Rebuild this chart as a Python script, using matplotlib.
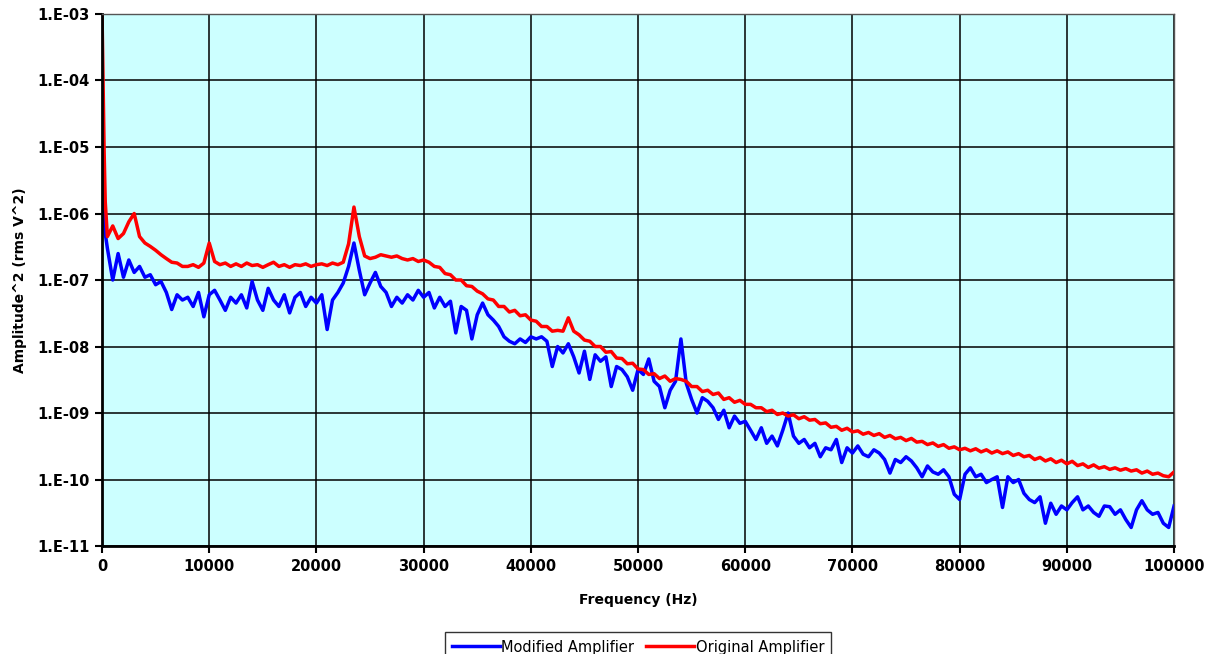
import numpy as np
import matplotlib
matplotlib.use("Agg")
import matplotlib.pyplot as plt
from matplotlib.ticker import FixedLocator, NullLocator, FuncFormatter

# frequency bins (Hz): a few low bins, then every 500 Hz
freq = [0, 100, 200, 300] + list(range(500, 100001, 500))

modified = [
    1.2e-5, 3.0e-6, 1.2e-6, 5.0e-7,
    # 500 - 5000
    3.0e-7, 1.0e-7, 2.5e-7, 1.1e-7, 2.0e-7, 1.3e-7, 1.6e-7, 1.1e-7, 1.2e-7, 8.5e-8,
    # 5500 - 10000
    9.5e-8, 6.5e-8, 3.6e-8, 6.0e-8, 5.0e-8, 5.5e-8, 4.0e-8, 6.5e-8, 2.8e-8, 6.0e-8,
    # 10500 - 15000
    7.0e-8, 5.0e-8, 3.5e-8, 5.5e-8, 4.5e-8, 6.0e-8, 3.8e-8, 9.5e-8, 5.0e-8, 3.5e-8,
    # 15500 - 20000
    7.5e-8, 5.0e-8, 4.0e-8, 6.0e-8, 3.2e-8, 5.5e-8, 6.5e-8, 4.0e-8, 5.5e-8, 4.5e-8,
    # 20500 - 25000
    6.0e-8, 1.8e-8, 5.0e-8, 6.5e-8, 9.0e-8, 1.6e-7, 3.6e-7, 1.4e-7, 6.0e-8, 9.0e-8,
    # 25500 - 30000
    1.3e-7, 8.0e-8, 6.5e-8, 4.0e-8, 5.5e-8, 4.5e-8, 6.0e-8, 5.0e-8, 7.0e-8, 5.5e-8,
    # 30500 - 35000
    6.5e-8, 3.8e-8, 5.5e-8, 4.0e-8, 4.8e-8, 1.6e-8, 4.0e-8, 3.5e-8, 1.3e-8, 3.0e-8,
    # 35500 - 40000
    4.5e-8, 3.0e-8, 2.5e-8, 2.0e-8, 1.4e-8, 1.2e-8, 1.1e-8, 1.3e-8, 1.15e-8, 1.4e-8,
    # 40500 - 45000
    1.3e-8, 1.4e-8, 1.2e-8, 5.0e-9, 1.0e-8, 8.0e-9, 1.1e-8, 7.0e-9, 4.0e-9, 8.5e-9,
    # 45500 - 50000
    3.2e-9, 7.5e-9, 6.0e-9, 7.0e-9, 2.5e-9, 5.0e-9, 4.5e-9, 3.5e-9, 2.2e-9, 4.5e-9,
    # 50500 - 55000
    3.8e-9, 6.5e-9, 3.0e-9, 2.5e-9, 1.2e-9, 2.2e-9, 3.0e-9, 1.3e-8, 2.8e-9, 1.6e-9,
    # 55500 - 60000
    1.0e-9, 1.7e-9, 1.5e-9, 1.2e-9, 8.0e-10, 1.1e-9, 6.0e-10, 9.0e-10, 7.0e-10, 7.5e-10,
    # 60500 - 65000
    5.5e-10, 4.0e-10, 6.0e-10, 3.5e-10, 4.5e-10, 3.2e-10, 5.5e-10, 1.0e-9, 4.5e-10, 3.5e-10,
    # 65500 - 70000
    4.0e-10, 3.0e-10, 3.5e-10, 2.2e-10, 3.0e-10, 2.8e-10, 4.0e-10, 1.8e-10, 3.0e-10, 2.5e-10,
    # 70500 - 75000
    3.2e-10, 2.4e-10, 2.2e-10, 2.8e-10, 2.5e-10, 2.0e-10, 1.25e-10, 2.0e-10, 1.8e-10, 2.2e-10,
    # 75500 - 80000
    1.9e-10, 1.5e-10, 1.1e-10, 1.6e-10, 1.3e-10, 1.2e-10, 1.4e-10, 1.1e-10, 6.0e-11, 5.0e-11,
    # 80500 - 85000
    1.2e-10, 1.5e-10, 1.1e-10, 1.2e-10, 9.0e-11, 1.0e-10, 1.1e-10, 3.8e-11, 1.1e-10, 9.0e-11,
    # 85500 - 90000
    1.0e-10, 6.2e-11, 5.0e-11, 4.5e-11, 5.5e-11, 2.2e-11, 4.4e-11, 3.0e-11, 4.0e-11, 3.5e-11,
    # 90500 - 95000
    4.5e-11, 5.5e-11, 3.5e-11, 4.0e-11, 3.2e-11, 2.8e-11, 4.0e-11, 3.9e-11, 3.0e-11, 3.5e-11,
    # 95500 - 100000
    2.5e-11, 1.9e-11, 3.5e-11, 4.8e-11, 3.5e-11, 3.0e-11, 3.2e-11, 2.2e-11, 1.9e-11, 4.0e-11,
]

original = [
    1.0e-3, 1.0e-4, 8.0e-6, 1.5e-6,
    # 500 - 5000
    4.5e-7, 6.5e-7, 4.2e-7, 5.0e-7, 7.5e-7, 1.0e-6, 4.5e-7, 3.6e-7, 3.2e-7, 2.8e-7,
    # 5500 - 10000
    2.4e-7, 2.1e-7, 1.85e-7, 1.8e-7, 1.6e-7, 1.6e-7, 1.7e-7, 1.55e-7, 1.8e-7, 3.6e-7,
    # 10500 - 15000
    1.9e-7, 1.7e-7, 1.8e-7, 1.6e-7, 1.75e-7, 1.6e-7, 1.8e-7, 1.65e-7, 1.7e-7, 1.55e-7,
    # 15500 - 20000
    1.7e-7, 1.85e-7, 1.6e-7, 1.7e-7, 1.55e-7, 1.7e-7, 1.65e-7, 1.75e-7, 1.6e-7, 1.7e-7,
    # 20500 - 25000
    1.75e-7, 1.65e-7, 1.8e-7, 1.7e-7, 1.85e-7, 3.5e-7, 1.25e-6, 4.5e-7, 2.3e-7, 2.1e-7,
    # 25500 - 30000
    2.2e-7, 2.4e-7, 2.3e-7, 2.2e-7, 2.3e-7, 2.1e-7, 2.0e-7, 2.1e-7, 1.9e-7, 2.0e-7,
    # 30500 - 35000
    1.85e-7, 1.6e-7, 1.55e-7, 1.25e-7, 1.2e-7, 1.0e-7, 1.0e-7, 8.2e-8, 8.0e-8, 6.8e-8,
    # 35500 - 40000
    6.2e-8, 5.2e-8, 5.0e-8, 4.0e-8, 4.0e-8, 3.3e-8, 3.5e-8, 2.9e-8, 3.0e-8, 2.5e-8,
    # 40500 - 45000
    2.4e-8, 2.0e-8, 2.0e-8, 1.7e-8, 1.75e-8, 1.7e-8, 2.7e-8, 1.7e-8, 1.5e-8, 1.25e-8,
    # 45500 - 50000
    1.2e-8, 1.0e-8, 1.0e-8, 8.2e-9, 8.4e-9, 6.7e-9, 6.6e-9, 5.5e-9, 5.6e-9, 4.6e-9,
    # 50500 - 55000
    4.5e-9, 3.8e-9, 3.9e-9, 3.3e-9, 3.6e-9, 3.0e-9, 3.3e-9, 3.2e-9, 3.0e-9, 2.5e-9,
    # 55500 - 60000
    2.5e-9, 2.1e-9, 2.2e-9, 1.9e-9, 2.0e-9, 1.6e-9, 1.7e-9, 1.45e-9, 1.55e-9, 1.35e-9,
    # 60500 - 65000
    1.35e-9, 1.2e-9, 1.2e-9, 1.05e-9, 1.1e-9, 9.5e-10, 1.0e-9, 9.0e-10, 9.4e-10, 8.2e-10,
    # 65500 - 70000
    8.8e-10, 7.8e-10, 8.0e-10, 6.9e-10, 7.1e-10, 6.1e-10, 6.3e-10, 5.5e-10, 5.9e-10, 5.2e-10,
    # 70500 - 75000
    5.4e-10, 4.8e-10, 5.1e-10, 4.6e-10, 4.9e-10, 4.3e-10, 4.6e-10, 4.1e-10, 4.3e-10, 3.85e-10,
    # 75500 - 80000
    4.15e-10, 3.65e-10, 3.75e-10, 3.35e-10, 3.55e-10, 3.15e-10, 3.35e-10, 2.95e-10, 3.1e-10, 2.8e-10,
    # 80500 - 85000
    2.95e-10, 2.7e-10, 2.9e-10, 2.6e-10, 2.8e-10, 2.5e-10, 2.7e-10, 2.45e-10, 2.6e-10, 2.3e-10,
    # 85500 - 90000
    2.45e-10, 2.2e-10, 2.3e-10, 2.0e-10, 2.15e-10, 1.9e-10, 2.05e-10, 1.8e-10, 1.95e-10, 1.72e-10,
    # 90500 - 95000
    1.88e-10, 1.62e-10, 1.72e-10, 1.52e-10, 1.66e-10, 1.48e-10, 1.56e-10, 1.42e-10, 1.5e-10, 1.38e-10,
    # 95500 - 100000
    1.46e-10, 1.34e-10, 1.4e-10, 1.25e-10, 1.34e-10, 1.2e-10, 1.25e-10, 1.14e-10, 1.1e-10, 1.3e-10,
]

x_ticks = list(range(0, 100001, 10000))
y_ticks = [1e-11, 1e-10, 1e-9, 1e-8, 1e-7, 1e-6, 1e-5, 1e-4, 1e-3]

fig = plt.figure(figsize=(12.06, 6.54), dpi=100)
ax = fig.add_axes([0.0846, 0.1651, 0.8889, 0.8135])
ax.set_facecolor("#CCFFFF")

ax.plot(freq, modified, color="#0000FF", lw=2.5, label="Modified Amplifier")
ax.plot(freq, original, color="#FF0000", lw=2.5, label="Original Amplifier")

ax.set_yscale("log")
ax.set_xlim(0, 100000)
ax.set_ylim(1e-11, 1e-3)
ax.xaxis.set_major_locator(FixedLocator(x_ticks))
ax.yaxis.set_major_locator(FixedLocator(y_ticks))
ax.yaxis.set_minor_locator(NullLocator())
ax.yaxis.set_major_formatter(FuncFormatter(lambda v, p: "1.E-%02d" % round(-np.log10(v))))
ax.xaxis.set_major_formatter(FuncFormatter(lambda v, p: "%d" % v))

ax.grid(True, color="black", lw=1.1)
ax.set_axisbelow(True)
for s in ["top", "right"]:
    ax.spines[s].set_color("#555555")
    ax.spines[s].set_linewidth(1)
for s in ["left", "bottom"]:
    ax.spines[s].set_linewidth(2)

ax.tick_params(axis="both", direction="out", length=5, width=1.5, labelsize=10.5, pad=4)
for lab in ax.get_xticklabels() + ax.get_yticklabels():
    lab.set_fontweight("bold")

ax.set_xlabel("Frequency (Hz)", fontsize=10, fontweight="bold", labelpad=14)
ax.set_ylabel("Amplitude^2 (rms V^2)", fontsize=10, fontweight="bold", labelpad=7)

leg = fig.legend(loc="lower center", bbox_to_anchor=(0.529, -0.012), ncol=2,
                 fontsize=10.5, frameon=True, fancybox=False, edgecolor="black",
                 handlelength=3.3, handletextpad=0.1, columnspacing=0.8,
                 borderpad=0.5, borderaxespad=0)
leg.get_frame().set_linewidth(1)

plt.savefig("out.png", dpi=100)
